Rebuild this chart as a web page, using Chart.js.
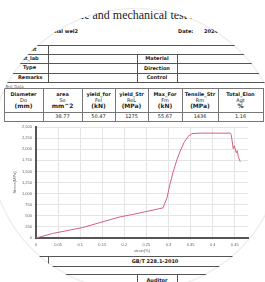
<!DOCTYPE html>
<html>
<head>
<meta charset="utf-8">
<script src="https://cdn.jsdelivr.net/npm/chart.js@4.4.1/dist/chart.umd.min.js"></script>
<style>
  html, body { margin: 0; padding: 0; background: #fff; }
  #page { position: relative; width: 265px; height: 282px; overflow: hidden; background: #fff;
          font-family: "DejaVu Sans", sans-serif; color: #222; }
  .hl { position: absolute; height: 1px; background: #555; }
  .vl { position: absolute; width: 1px; background: #555; }
  .t { position: absolute; white-space: nowrap; font-weight: bold; font-size: 5px; line-height: 5px; }
  .c { transform: translateX(-50%); text-align: center; }
  #title { position: absolute; left: 55px; top: 8px; font-family: "Liberation Serif", serif; font-size: 12px; color: #222; white-space: nowrap; }
  #chart { position: absolute; left: 0; top: 121px; }
  #mask { position: absolute; left: -10px; top: 8px; width: 292px; height: 284px; border-radius: 50%;
          box-shadow: 0 0 0 300px #fff, inset 0 0 2px rgba(0,0,0,0.25); pointer-events: none; }
</style>
</head>
<body>
<div id="page">
  <div id="title">Tensile and mechanical test report</div>
  <div class="t" style="left:26px;top:29px;">Conventional wel2</div>
  <div class="t" style="left:178px;top:29px;">Date:</div>
  <div class="t" style="left:204px;top:29px;">2024-05-16</div>

  <!-- info table -->
  <div class="hl" style="left:0;top:45px;width:265px;"></div>
  <div class="hl" style="left:0;top:54px;width:265px;"></div>
  <div class="hl" style="left:0;top:63px;width:265px;"></div>
  <div class="hl" style="left:0;top:73px;width:265px;"></div>
  <div class="hl" style="left:0;top:82px;width:265px;"></div>
  <div class="vl" style="left:48px;top:45px;height:37px;"></div>
  <div class="vl" style="left:137px;top:54px;height:28px;"></div>
  <div class="vl" style="left:177px;top:54px;height:28px;"></div>
  <div class="t" style="left:20px;top:47px;">Client</div>
  <div class="t" style="left:16px;top:56px;">Test_lab</div>
  <div class="t" style="left:23px;top:65px;">Type</div>
  <div class="t" style="left:18px;top:75px;">Remarks</div>
  <div class="t c" style="left:157px;top:56px;">Material</div>
  <div class="t c" style="left:157px;top:66px;">Direction</div>
  <div class="t c" style="left:157px;top:75px;">Control</div>
  <div class="t" style="left:5px;top:84px;font-weight:normal;font-size:4px;color:#666;">Test Data</div>

  <!-- data table -->
  <div id="dt"></div>

  <canvas id="chart" width="265" height="132"></canvas>

  <!-- footer -->
  <div class="hl" style="left:0;top:256px;width:265px;"></div>
  <div class="hl" style="left:0;top:266px;width:265px;"></div>
  <div class="vl" style="left:48px;top:256px;height:10px;"></div>
  <div class="t c" style="left:155px;top:259px;">GB/T 228.1-2010</div>
  <div class="hl" style="left:0;top:274px;width:265px;"></div>
  <div class="vl" style="left:137px;top:274px;height:10px;"></div>
  <div class="vl" style="left:177px;top:274px;height:10px;"></div>
  <div class="t c" style="left:157px;top:278px;">Auditor</div>

  <div id="mask"></div>
</div>
<script>
  // table columns
  const colNames = ['Diameter', 'area', 'yield_for', 'yield_Str', 'Max_For', 'Tensile_Str', 'Total_Elon'];
  const colSymbols = ['Do', 'So', 'Fel', 'ReL', 'Fm', 'Rm', 'Agt'];
  const colUnits = ['(mm)', 'mm^2', '(kN)', '(MPa)', '(kN)', '(MPa)', '%'];
  const colValues = ['', '38.77', '50.47', '1275', '55.67', '1436', '1.16'];

  // curve: strain vs stress
  const strain = [0, 0.0375, 0.106, 0.19, 0.219, 0.2875, 0.292, 0.2966, 0.303, 0.310, 0.319, 0.326, 0.335, 0.344, 0.353, 0.372, 0.440, 0.442, 0.444, 0.4466, 0.449, 0.4534, 0.4557, 0.458, 0.4625];
  const stress = [0, 102, 237, 475, 531, 678, 791, 904, 1198, 1469, 1763, 1944, 2147, 2283, 2350, 2362, 2362, 2328, 2192, 2011, 2079, 1921, 1966, 1830, 1718];

  const xTicks = [0, 0.05, 0.1, 0.15, 0.2, 0.25, 0.3, 0.35, 0.4, 0.45];
  const yTicks = [0, 250, 500, 750, 1000, 1250, 1500, 1750, 2000, 2250, 2500];

  const edges = [4, 43, 82, 115, 148, 182, 218, 263];
  let html = '';
  [88, 112, 121].forEach(y => {
    html += '<div class="hl" style="left:4px;top:' + y + 'px;width:260px;background:#777"></div>';
  });
  edges.forEach(x => {
    html += '<div class="vl" style="left:' + x + 'px;top:88px;height:33px;background:#777"></div>';
  });
  for (let i = 0; i < colNames.length; i++) {
    const cx = (edges[i] + edges[i + 1]) / 2;
    html += '<div class="t c" style="left:' + cx + 'px;top:92px;">' + colNames[i] + '</div>';
    html += '<div class="t c" style="left:' + cx + 'px;top:98px;font-weight:normal;">' + colSymbols[i] + '</div>';
    html += '<div class="t c" style="left:' + cx + 'px;top:103px;font-size:6px;">' + colUnits[i] + '</div>';
    html += '<div class="t c" style="left:' + cx + 'px;top:114px;font-weight:normal;">' + colValues[i] + '</div>';
  }
  document.getElementById('dt').innerHTML = html;

  const points = strain.map((s, i) => ({ x: s, y: stress[i] }));

  new Chart(document.getElementById('chart').getContext('2d'), {
    type: 'line',
    data: {
      datasets: [{
        data: points,
        borderColor: '#d8607c',
        borderWidth: 1,
        pointRadius: 0,
        tension: 0,
        fill: false
      }]
    },
    options: {
      responsive: false,
      animation: false,
      devicePixelRatio: 1,
      layout: { padding: { top: 6, right: 17, left: 0, bottom: 0 } },
      plugins: { legend: { display: false }, tooltip: { enabled: false } },
      scales: {
        x: {
          type: 'linear',
          min: 0,
          max: 0.48,
          afterBuildTicks: s => { s.ticks = xTicks.map(v => ({ value: v })); },
          afterFit: s => { s.height = 15; },
          ticks: {
            font: { size: 4 }, color: '#666', padding: 2, maxRotation: 0, autoSkip: false,
            callback: v => String(Number(v.toFixed(2)))
          },
          grid: { color: '#e4e4e4', tickLength: 2 },
          border: { color: '#555', width: 2 },
          title: { display: true, text: 'strain(%)', font: { size: 4 }, color: '#666', padding: 0 }
        },
        y: {
          min: 0,
          max: 2500,
          afterBuildTicks: s => { s.ticks = yTicks.map(v => ({ value: v })); },
          afterFit: s => { s.width = 36; },
          ticks: { font: { size: 4 }, color: '#666', padding: 2, autoSkip: false },
          grid: { color: '#e4e4e4', tickLength: 2 },
          border: { color: '#555', width: 2 },
          title: { display: true, text: 'Stress(MPa)', font: { size: 4 }, color: '#666', padding: { top: 12, bottom: 0 } }
        }
      }
    }
  });
</script>
</body>
</html>
